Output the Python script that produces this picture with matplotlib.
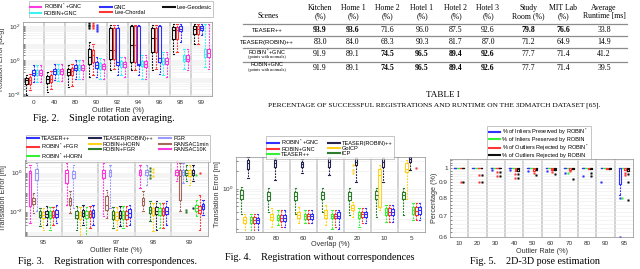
import numpy as np
import matplotlib
matplotlib.use('Agg')
import matplotlib.pyplot as plt
from matplotlib.lines import Line2D
from matplotlib.ticker import NullFormatter, FixedLocator, FuncFormatter

plt.rcParams['font.family'] = ['Liberation Sans', 'DejaVu Sans']
plt.rcParams['mathtext.fontset'] = 'custom'
plt.rcParams['mathtext.rm'] = 'Liberation Sans'

#%% Fig 2 - rotation error, log10 [deg]; each row = [lo, q1, med, q3, hi]
rot_groups = ['0', '40', '80', '90', '92', '94', '96', '98', '99']
rot_geodesic = [
    [-2.06, -1.37, -1.18, -1.04, -0.84],
    [-1.86, -1.31, -1.12, -0.94, -0.69],
    [-1.57, -0.84, -0.69, -0.49, -0.25],
    [-0.98, -0.20, 0.20, 0.69, 1.08],
    [-0.59, 0.10, 0.59, 1.90, 2.06],
    [-0.59, -0.10, 0.88, 2.00, 2.10],
    [-0.59, 0.49, 1.33, 1.90, 2.06],
    [0.39, 1.27, 1.76, 1.96, 2.16],
    [0.98, 1.57, 1.86, 2.00, 2.16]]
rot_chordal = [
    [-1.76, -1.37, -1.18, -0.98, -0.78],
    [-1.70, -1.27, -1.08, -0.88, -0.65],
    [-1.50, -0.84, -0.65, -0.45, -0.20],
    [-0.88, -0.10, 0.30, 0.63, 0.98],
    [-0.49, 0.10, 0.63, 1.90, 2.10],
    [-0.59, -0.10, 0.88, 2.00, 2.10],
    [-0.49, 0.49, 1.33, 1.90, 2.06],
    [0.49, 1.24, 1.76, 1.96, 2.16],
    [0.98, 1.57, 1.82, 2.00, 2.16]]
rot_gnc = [
    [-1.27, -0.88, -0.73, -0.59, -0.29],
    [-1.18, -0.78, -0.63, -0.49, -0.20],
    [-1.08, -0.59, -0.43, -0.29, 0.00],
    [-0.98, -0.45, -0.29, -0.10, 0.20],
    [-0.88, -0.25, -0.10, 1.90, 2.10],
    [-0.88, -0.29, -0.20, 2.00, 2.10],
    [-0.78, -0.10, 0.14, 2.00, 2.10],
    [1.08, 1.70, 1.86, 2.00, 2.16],
    [1.47, 1.76, 1.90, 2.00, 2.16]]
rot_robin_gnc = [
    [-1.25, -0.88, -0.73, -0.59, -0.30],
    [-1.20, -0.78, -0.63, -0.49, -0.20],
    [-1.10, -0.59, -0.43, -0.29, 0.00],
    [-1.08, -0.49, -0.33, -0.16, 0.14],
    [-0.88, -0.39, -0.22, -0.06, 0.20],
    [-1.08, -0.33, -0.20, -0.06, 0.30],
    [-0.88, -0.24, -0.06, 0.16, 0.49],
    [-0.49, -0.06, 0.10, 0.29, 0.69],
    [-0.39, 0.20, 0.39, 0.69, 2.16]]
rot_robin_star_gnc = [
    [-1.30, -0.88, -0.73, -0.59, -0.30],
    [-1.20, -0.78, -0.63, -0.49, -0.20],
    [-1.10, -0.59, -0.43, -0.29, 0.00],
    [-1.08, -0.53, -0.35, -0.20, 0.10],
    [-0.98, -0.39, -0.24, -0.10, 0.20],
    [-1.08, -0.39, -0.24, -0.06, 0.30],
    [-0.98, -0.24, -0.06, 0.16, 0.49],
    [-0.59, -0.06, 0.10, 0.29, 0.69],
    [-0.49, 0.20, 0.45, 0.69, 2.16]]
# (series name, group index, outlier values)
rot_fliers = [('geo', 3, [1.9, 2.0, 2.1, 2.2]),
              ('cho', 3, [1.9, 2.0, 2.1, 2.2]),
              ('gnc', 3, [1.75, 1.85, 1.95, 2.05])]

#%% Fig 3 - registration with correspondences, log10 [m]
corr_groups = ['95', '96', '97', '98', '99']
t_ransac10k = [
    [-2.60, -1.70, -0.02, 0.07, 0.41],
    [-1.64, -0.53, -0.02, 0.15, 0.50],
    [-2.24, -0.27, -0.02, 0.15, 0.50],
    [-0.79, -0.14, 0.03, 0.15, 0.41],
    [-0.44, -0.10, 0.03, 0.15, 0.58]]
t_ransac1min = [
    [-2.07, -1.60, -1.44, -1.30, -1.04],
    [-2.07, -1.64, -1.47, -1.30, -0.96],
    [-2.32, -1.90, -1.64, -1.21, -0.87],
    [-1.98, -1.64, -1.47, -1.30, -0.96],
    [-1.98, -1.38, -0.19, 0.15, 0.50]]
t_fgr = [
    [-1.98, -0.36, -0.02, 0.19, 0.50],
    [-1.81, -0.27, -0.07, 0.07, 0.41],
    [-1.81, -0.19, 0.03, 0.15, 0.41],
    [-0.62, -0.14, 0.03, 0.15, 0.41],
    [-0.53, -0.14, 0.03, 0.15, 0.50]]
t_robin_fgr = [
    [-2.75, -2.29, -2.15, -1.98, -1.81],
    [-2.92, -2.32, -2.15, -1.98, -1.73],
    [-2.84, -2.36, -2.19, -1.98, -1.78],
    [-2.50, -2.07, -1.90, -1.76, -1.47],
    [-0.44, -0.14, -0.02, 0.15, 0.41]]
t_robin_horn = [
    [-2.92, -2.32, -2.19, -2.02, -1.81],
    [-3.26, -2.36, -2.19, -2.02, -1.78],
    [-2.92, -2.41, -2.24, -2.02, -1.78],
    [-3.01, -2.15, -1.98, -1.81, -1.56],
    [-0.62, -0.19, -0.02, 0.15, 0.41]]
t_teaser_robin = [
    [-2.67, -2.29, -2.12, -1.98, -1.73],
    [-2.67, -2.24, -2.07, -1.90, -1.64],
    [-2.75, -2.32, -2.15, -1.95, -1.73],
    [-2.92, -2.12, -1.95, -1.78, -1.47],
    [-0.44, -0.14, -0.02, 0.15, 0.41]]
t_robin_star_horn = [
    [-2.92, -2.32, -2.15, -1.98, -1.78],
    [-3.35, -2.32, -2.15, -1.98, -1.78],
    [-2.84, -2.36, -2.19, -1.98, -1.73],
    [-2.84, -2.15, -1.98, -1.81, -1.56],
    [-2.24, -1.98, -1.81, -1.64, -1.38]]
t_robin_star_fgr = [
    [-2.67, -2.29, -2.15, -1.98, -1.78],
    [-2.84, -2.29, -2.12, -1.95, -1.73],
    [-2.75, -2.38, -2.19, -1.98, -1.73],
    [-2.84, -2.15, -1.98, -1.81, -1.56],
    [-2.92, -2.07, -1.90, -1.73, -1.13]]
t_teaser = [
    [-2.58, -2.29, -2.12, -1.93, -1.68],
    [-2.67, -2.27, -2.07, -1.90, -1.64],
    [-2.67, -2.29, -2.07, -1.85, -1.64],
    [-2.67, -2.12, -1.95, -1.78, -1.47],
    [-2.15, -1.85, -1.73, -1.61, -1.38]]
corr_fliers = [('robin_fgr', 3, [0.24, 0.10, -0.10, -0.27]),
               ('robin_horn', 3, [0.20, 0.05, -0.15]),
               ('robin_fgr', 4, [-1.90, -2.00]),
               ('teaser_robin', 4, [-1.80]),
               ('robin_star_horn', 4, [-0.10]),
               ('robin_star_fgr', 4, [0.00])]

#%% Fig 4 - registration without correspondences, log10 [m]
ovl_groups = ['100', '80', '60', '40', '20', '10', '5']
w_icp = [
    [-0.43, -0.17, -0.10, -0.02, 0.03],
    [-0.40, -0.20, -0.12, -0.05, 0.01],
    [-0.43, -0.20, -0.12, -0.05, 0.01],
    [-0.40, -0.17, -0.11, -0.05, 0.01],
    [-0.46, -0.20, -0.12, -0.05, 0.01],
    [-0.49, -0.17, -0.10, -0.04, 0.02],
    [-0.46, -0.17, -0.11, -0.05, 0.01]]
w_goicp = [
    [-0.80, -0.60, -0.54, -0.49, -0.43],
    [-0.66, -0.54, -0.49, -0.43, -0.34],
    [-0.60, -0.51, -0.46, -0.40, -0.31],
    [-0.63, -0.50, -0.45, -0.37, -0.28],
    [-0.49, -0.37, -0.33, -0.28, -0.23],
    [-0.37, -0.31, 0.24, 0.35, 0.41],
    [-0.17, 0.29, 0.35, 0.44, 0.50]]
w_teaser_robin = [
    [0.18, 0.35, 0.44, 0.50, 0.55],
    [0.15, 0.38, 0.44, 0.50, 0.54],
    [0.27, 0.38, 0.43, 0.47, 0.51],
    [0.24, 0.38, 0.46, 0.53, 0.55],
    [0.12, 0.41, 0.47, 0.53, 0.57],
    [0.12, 0.38, 0.46, 0.53, 0.57],
    [0.32, 0.47, 0.51, 0.55, 0.57]]
w_teaser = [
    [-0.75, -0.60, -0.54, -0.49, -0.43],
    [-0.63, -0.54, -0.50, -0.45, -0.37],
    [-0.60, -0.53, -0.47, -0.43, -0.37],
    [-0.69, -0.51, -0.47, -0.43, -0.37],
    [-0.66, -0.50, -0.45, -0.40, -0.34],
    [-0.57, -0.46, -0.40, -0.34, -0.28],
    [-0.54, -0.43, -0.37, -0.31, -0.25]]
w_robin_gnc = [
    [-0.77, -0.60, -0.55, -0.49, -0.43],
    [-0.66, -0.56, -0.50, -0.45, -0.37],
    [-0.60, -0.53, -0.47, -0.43, -0.37],
    [-0.66, -0.51, -0.47, -0.43, -0.37],
    [-0.60, -0.49, -0.44, -0.40, -0.34],
    [-0.57, -0.46, -0.40, -0.34, -0.28],
    [-0.54, -0.45, -0.38, -0.31, -0.25]]
w_robin_star_gnc = [
    [-0.77, -0.60, -0.55, -0.50, -0.44],
    [-0.66, -0.56, -0.50, -0.45, -0.37],
    [-0.60, -0.53, -0.47, -0.43, -0.37],
    [-0.69, -0.51, -0.47, -0.41, -0.36],
    [-0.60, -0.49, -0.44, -0.40, -0.34],
    [-0.57, -0.46, -0.40, -0.35, -0.28],
    [-0.54, -0.43, -0.37, -0.31, -0.25]]
ovl_fliers = [('goicp', 4, [0.41, 0.32, 0.27]),
              ('robin_gnc', 6, [0.36])]

#%% Fig 5 - 2D-3D pose estimation, fraction (not log)
pose_groups = ['10', '20', '30', '40', '50', '60', '70', '80', '90', '95']
p_inl_star = [[1, 1, 1, 1, 1], [1, 1, 1, 1, 1], [1, 1, 1, 1, 1], [1, 1, 1, 1, 1],
              [1, 1, 1, 1, 1], [1, 1, 1, 1, 1], [1, 1, 1, 1, 1], [1, 1, 1, 1, 1],
              [1, 1, 1, 1, 1], [0.82, 0.89, 1, 1, 1]]
p_inl = [[1, 1, 1, 1, 1], [1, 1, 1, 1, 1], [1, 1, 1, 1, 1], [1, 1, 1, 1, 1],
         [1, 1, 1, 1, 1], [1, 1, 1, 1, 1], [1, 1, 1, 1, 1], [1, 1, 1, 1, 1],
         [1, 1, 1, 1, 1], [1, 1, 1, 1, 1]]
p_out_star = [[1, 1, 1, 1, 1], [1, 1, 1, 1, 1], [1, 1, 1, 1, 1],
              [0.975, 0.975, 0.99, 1, 1], [0.98, 0.98, 0.99, 1, 1],
              [0.985, 0.985, 0.995, 1, 1], [0.985, 0.985, 1, 1, 1],
              [0.99, 0.99, 1, 1, 1], [0.99, 0.99, 1, 1, 1], [0.985, 0.985, 1, 1, 1]]
p_out = [[1, 1, 1, 1, 1], [1, 1, 1, 1, 1], [1, 1, 1, 1, 1],
         [0.98, 0.98, 0.99, 1, 1], [0.985, 0.985, 0.995, 1, 1],
         [0.985, 0.985, 0.995, 1, 1], [0.99, 0.99, 1, 1, 1],
         [0.99, 0.99, 1, 1, 1], [0.99, 0.99, 1, 1, 1], [0.975, 0.975, 0.99, 1, 1]]
p_inl_star_fl = [[], [], [0.985], [0.985], [0.98], [0.975], [0.965], [0.945], [0.90], [0.80, 0.60]]
p_inl_fl = [[], [], [], [], [], [], [0.965], [], [], [0.80]]
p_out_star_fl = [[0.90], [0.95, 0.90], [0.97, 0.94], [0.955, 0.93], [0.965], [0.97], [0.975], [], [], [0.965, 0.95]]
p_out_fl = [[0.90], [0.95, 0.90], [0.97, 0.94], [0.955, 0.93], [0.95], [0.96], [0.92], [0.965, 0.945], [], [0.955, 0.90, 0.79]]

#%% Table I
tab_cols = ['Kitchen\n(%)', 'Home 1\n(%)', 'Home 2\n(%)', 'Hotel 1\n(%)', 'Hotel 2\n(%)',
            'Hotel 3\n(%)', 'Study\nRoom (%)', 'MIT Lab\n(%)', 'Average\nRuntime [ms]']
tab_rows = ['TEASER++', 'TEASER(ROBIN)++', 'ROBIN$^*$+GNC', 'ROBIN+GNC']
tab_teaser = [93.9, 93.6, 71.6, 96.0, 87.5, 92.6, 79.8, 76.6, 33.8]
tab_teaser_robin = [83.0, 84.0, 68.3, 90.3, 81.7, 87.0, 71.2, 64.9, 14.9]
tab_robin_star_gnc = [91.9, 89.1, 74.5, 96.5, 89.4, 92.6, 77.7, 71.4, 41.2]
tab_robin_gnc = [91.9, 89.1, 74.5, 96.5, 89.4, 92.6, 77.7, 71.4, 39.5]
tab_bold = [[1, 1, 0, 0, 0, 0, 1, 1, 0],
            [0, 0, 0, 0, 0, 0, 0, 0, 0],
            [0, 0, 1, 1, 1, 1, 0, 0, 0],
            [0, 0, 1, 1, 1, 1, 0, 0, 0]]

#%% colours
MAG = '#ff38e0'
CYA = '#3ff2f2'
BLU = '#3030ff'
RED = '#ff3535'
BLK = '#101010'
LAV = '#9a9aff'
BRN = '#a5675c'
DGR = '#2e7d2e'
YEL = '#ffd31c'
NAV = '#25254d'
GRN = '#38f038'

W, H = 640, 269
fig = plt.figure(figsize=(6.4, 2.69), dpi=100)


def fx(x):
    return x / W


def fy(y):
    return 1 - y / H


def add_ax(l, t, r, b):
    return fig.add_axes([fx(l), fy(b), (r - l) / W, (b - t) / H])


def draw_boxes(ax, series, colors, spacing, width, fliers, log=True):
    n = len(series)
    for i, (vals, c) in enumerate(zip(series, colors)):
        off = (i - (n - 1) / 2) * spacing
        stats = []
        for g, v in enumerate(vals):
            fl = fliers[i][g]
            if log:
                v = [10 ** k for k in v]
                fl = [10 ** k for k in fl]
            stats.append(dict(whislo=v[0], q1=v[1], med=v[2], q3=v[3], whishi=v[4], fliers=fl))
        pos = np.arange(1, len(vals) + 1) + off
        ax.bxp(stats, positions=pos, widths=width, manage_ticks=False,
               boxprops=dict(color=c, lw=0.8),
               medianprops=dict(color=c, lw=0.8),
               whiskerprops=dict(color=c, lw=0.8, ls=(0, (1.6, 1.0))),
               capprops=dict(color=c, lw=0.8),
               capwidths=width * 0.6,
               flierprops=dict(marker='s', markerfacecolor=c, markeredgecolor=c,
                               markersize=1.1, markeredgewidth=0.3))


def flier_table(names, n_groups, entries):
    tbl = [[[] for _ in range(n_groups)] for _ in names]
    for name, g, vals in entries:
        tbl[names.index(name)][g] = vals
    return tbl


def style_ax(ax, labels, xlabel, ylabel):
    n = len(labels)
    ax.set_xlim(0.5, n + 0.5)
    for k in range(1, n):
        ax.axvline(k + 0.5, color='#cfcfcf', lw=1.3, zorder=0)
    ax.set_xticks(np.arange(1, n + 1))
    ax.set_xticklabels(labels)
    ax.yaxis.grid(True, which='both', color='#ececec', lw=0.4, zorder=0)
    ax.set_axisbelow(True)
    ax.tick_params(axis='both', which='both', direction='in', labelsize=4.6,
                   length=1.5, width=0.4, colors='#333333', pad=1.5)
    ax.tick_params(axis='x', length=0, pad=3)
    for s in ax.spines.values():
        s.set_color('#8a8a8a')
        s.set_linewidth(0.5)
    ax.set_xlabel(xlabel, fontsize=5.2, labelpad=1, color='#333333')
    ax.set_ylabel(ylabel, fontsize=5.2, labelpad=1, color='#333333')


def legend(handles, labels, cx, cy, ncol, **kw):
    lg = fig.legend(handles, labels, loc='center', bbox_to_anchor=(fx(cx), fy(cy)),
                    ncol=ncol, fontsize=4.1, frameon=True, fancybox=False,
                    handlelength=2.0, handletextpad=0.4, borderpad=0.2,
                    labelspacing=0.05, borderaxespad=0, **kw)
    lg.get_frame().set_edgecolor('#9a9a9a')
    lg.get_frame().set_linewidth(0.5)
    return lg


def lh(c):
    return Line2D([], [], color=c, lw=1.5)


def caption(x, y, s):
    fig.text(fx(x), fy(y), s, ha='center', va='center', fontsize=7.3,
             family='Liberation Serif')


#%% Fig 2
ax2 = add_ax(23, 22, 212, 96)
ax2.set_yscale('log')
names2 = ['geo', 'cho', 'gnc', 'rgnc', 'rsgnc']
draw_boxes(ax2, [rot_geodesic, rot_chordal, rot_gnc, rot_robin_gnc, rot_robin_star_gnc],
           [BLK, RED, BLU, CYA, MAG], 0.17, 0.13,
           flier_table(names2, len(rot_groups), rot_fliers))
ax2.set_ylim(10 ** -2.1, 10 ** 2.25)
style_ax(ax2, rot_groups, 'Outlier Rate (%)', 'Rotation Error [deg]')
ax2.yaxis.set_major_locator(FixedLocator([1e-2, 1, 1e2]))
ax2.yaxis.set_minor_formatter(NullFormatter())
legend([lh(MAG), lh(CYA), lh(BLU), lh(RED), lh(BLK)],
       ['ROBIN$^*$+GNC', 'ROBIN+GNC', 'GNC', 'Lee-Chordal', 'Lee-Geodesic'],
       121, 9, 3, columnspacing=3.2)
caption(104, 118, 'Fig. 2.    Single rotation averaging.')

#%% Fig 3
ax3 = add_ax(25, 160, 208, 236)
ax3.set_yscale('log')
names3 = ['ransac10k', 'ransac1min', 'fgr', 'robin_fgr', 'robin_horn', 'teaser_robin',
          'robin_star_horn', 'robin_star_fgr', 'teaser']
draw_boxes(ax3, [t_ransac10k, t_ransac1min, t_fgr, t_robin_fgr, t_robin_horn, t_teaser_robin,
                 t_robin_star_horn, t_robin_star_fgr, t_teaser],
           [MAG, BRN, LAV, DGR, YEL, NAV, GRN, RED, BLU], 0.09, 0.07,
           flier_table(names3, len(corr_groups), corr_fliers))
ax3.set_ylim(10 ** -3.25, 10 ** 0.65)
style_ax(ax3, corr_groups, 'Outlier Rate (%)', 'Translation Error [m]')
ax3.yaxis.set_major_locator(FixedLocator([1e-2, 1]))
ax3.yaxis.set_minor_formatter(NullFormatter())
legend([lh(BLU), lh(RED), lh(GRN), lh(NAV), lh(YEL), lh(DGR), lh(LAV), lh(BRN), lh(MAG)],
       ['TEASER++', 'ROBIN$^*$+FGR', 'ROBIN$^*$+HORN', 'TEASER(ROBIN)++', 'ROBIN+HORN',
        'ROBIN+FGR', 'FGR', 'RANSAC1min', 'RANSAC10K'],
       118, 148.5, 3, columnspacing=1.0)
caption(107, 262, 'Fig. 3.    Registration with correspondences.')

#%% Fig 4
ax4 = add_ax(236, 157, 425, 232)
ax4.set_yscale('log')
names4 = ['icp', 'goicp', 'teaser_robin', 'teaser', 'robin_gnc', 'robin_star_gnc']
draw_boxes(ax4, [w_icp, w_goicp, w_teaser_robin, w_teaser, w_robin_gnc, w_robin_star_gnc],
           [DGR, YEL, NAV, GRN, RED, BLU], 0.12, 0.09,
           flier_table(names4, len(ovl_groups), ovl_fliers))
ax4.set_ylim(10 ** -0.75, 10 ** 0.55)
style_ax(ax4, ovl_groups, 'Overlap (%)', 'Translation Error [m]')
ax4.yaxis.set_major_locator(FixedLocator([1]))
ax4.yaxis.set_minor_formatter(NullFormatter())
ax4.xaxis.labelpad = 0
legend([lh(BLU), lh(RED), lh(GRN), lh(NAV), lh(YEL), lh(DGR)],
       ['ROBIN$^*$+GNC', 'ROBIN+GNC', 'TEASER++', 'TEASER(ROBIN)++', 'GoICP', 'ICP'],
       330, 147.5, 2, columnspacing=1.5)
caption(320, 257, 'Fig. 4.    Registration without correspondences')

#%% Fig 5
ax5 = add_ax(450, 159, 633, 237)
ax5.set_yscale('log')
draw_boxes(ax5, [p_inl_star, p_inl, p_out_star, p_out], [BLU, GRN, RED, BLK], 0.15, 0.1,
           [p_inl_star_fl, p_inl_fl, p_out_star_fl, p_out_fl], log=False)
ax5.set_ylim(0.598, 1.07)
style_ax(ax5, pose_groups, 'Outlier Rate (%)', 'Percentage (%)')
ax5.yaxis.set_major_locator(FixedLocator([0.6, 0.7, 0.8, 0.9, 1.0]))
ax5.yaxis.set_major_formatter(FuncFormatter(lambda v, p: '%g' % v))
ax5.yaxis.set_minor_locator(FixedLocator(np.arange(0.62, 1.07, 0.02)))
ax5.yaxis.set_minor_formatter(NullFormatter())
legend([lh(BLU), lh(GRN), lh(RED), lh(BLK)],
       ['% of Inliers Preserved by ROBIN$^*$', '% of Inliers Preserved by ROBIN',
        '% of Outliers Rejected by ROBIN$^*$', '% of Outliers Rejected by ROBIN'],
       539, 142.5, 1)
caption(535, 261, 'Fig. 5.    2D-3D pose estimation')

#%% Table I
col_x = [320, 353, 387, 422, 456, 488, 528, 563, 604]
row_y = [30, 42.3, 54.5, 67.5]
tab_vals = [tab_teaser, tab_teaser_robin, tab_robin_star_gnc, tab_robin_gnc]
serif = 'Liberation Serif'
fig.text(fx(268), fy(16), 'Scenes', ha='center', va='center', fontsize=5.6, family=serif)
for x, c in zip(col_x, tab_cols):
    fig.text(fx(x), fy(12), c, ha='center', va='center', fontsize=5.6, family=serif,
             linespacing=1.05)
for i, (name, vals) in enumerate(zip(tab_rows, tab_vals)):
    y = row_y[i]
    if i >= 2:
        fig.text(fx(267), fy(y - 2.6), name, ha='center', va='center', fontsize=4.0)
        fig.text(fx(267), fy(y + 2.8), '(points with normals)', ha='center', va='center',
                 fontsize=3.2, family=serif)
    else:
        fig.text(fx(267), fy(y), name, ha='center', va='center', fontsize=4.3)
    for j, (x, v) in enumerate(zip(col_x, vals)):
        fig.text(fx(x), fy(y), '%.1f' % v, ha='center', va='center', fontsize=5.6,
                 family=serif, weight='bold' if tab_bold[i][j] else 'normal')
for y in [24, 36, 48.3, 61.5]:
    fig.add_artist(Line2D([fx(243), fx(627)], [fy(y), fy(y)], color='#8c8c8c', lw=0.9))
fig.text(fx(443), fy(95), 'TABLE I', ha='center', va='center', fontsize=6.6, family=serif)
fig.text(fx(434), fy(105.5),
         'PERCENTAGE OF SUCCESSFUL REGISTRATIONS AND RUNTIME ON THE 3DMATCH DATASET [65].',
         ha='center', va='center', fontsize=5.3, family=serif)

fig.savefig('out.png', dpi=100)
